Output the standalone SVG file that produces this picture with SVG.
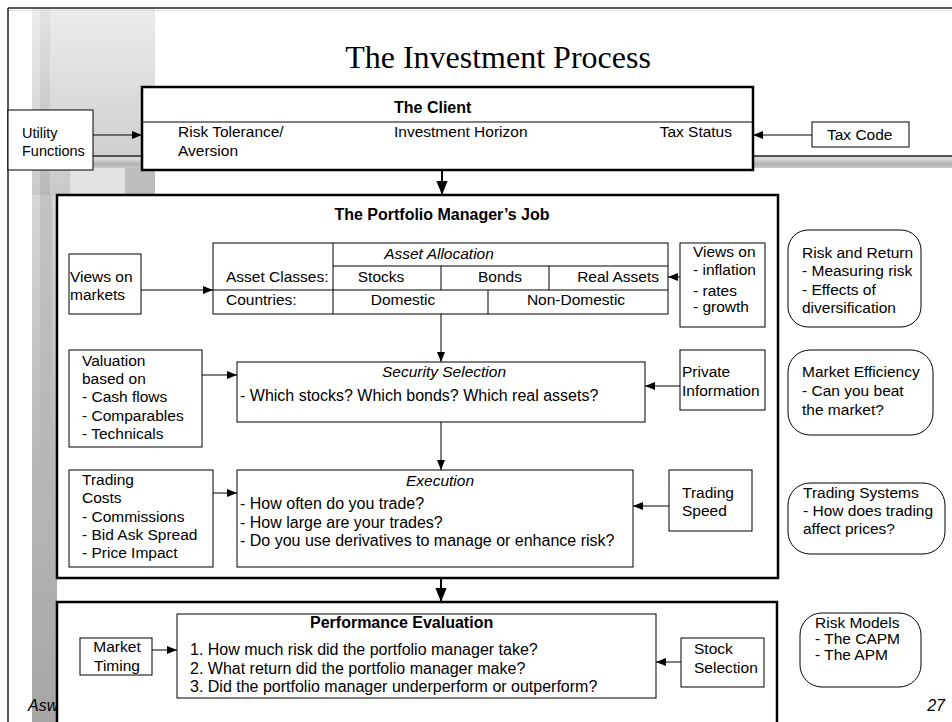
<svg xmlns="http://www.w3.org/2000/svg" width="952" height="722" viewBox="0 0 952 722">
<defs>
<style>
text{font-family:"Liberation Sans",Arial,sans-serif;font-size:15.5px;fill:#000}
.b{font-weight:bold;font-size:16px}
.i{font-style:italic}
.c{text-anchor:middle}
.e{text-anchor:end}
.m{font-size:16px}
.box{fill:#fff;stroke:#000;stroke-width:1}
.main{fill:#fff;stroke:#000;stroke-width:2.5}
.ln{fill:none;stroke:#000;stroke-width:1}
.con{fill:none;stroke:#000;stroke-width:1;marker-end:url(#ah)}
.big{fill:none;stroke:#000;stroke-width:2;marker-end:url(#ahb)}
</style>
<marker id="ah" viewBox="0 0 10 8" refX="10" refY="4" markerWidth="11" markerHeight="8" markerUnits="userSpaceOnUse" orient="auto"><path d="M0,0 L10,4 L0,8 z" fill="#000"/></marker>
<marker id="ahb" viewBox="0 0 10 8" refX="10" refY="4" markerWidth="14" markerHeight="12" markerUnits="userSpaceOnUse" orient="auto"><path d="M0,0 L10,4 L0,8 z" fill="#000"/></marker>
<linearGradient id="gTop" x1="0" y1="0" x2="0" y2="1"><stop offset="0" stop-color="#ececec"/><stop offset="1" stop-color="#c8c8c8"/></linearGradient>
<linearGradient id="gLeft" x1="0" y1="0" x2="0" y2="1"><stop offset="0" stop-color="#d6d6d6"/><stop offset="0.5" stop-color="#b8b8b8"/><stop offset="1" stop-color="#a6a6a6"/></linearGradient>
<linearGradient id="gStripe" x1="0" y1="0" x2="0" y2="1"><stop offset="0" stop-color="#e0e0e0"/><stop offset="1" stop-color="#b4b4b4"/></linearGradient>
<linearGradient id="gBar" x1="0" y1="0" x2="0" y2="1"><stop offset="0" stop-color="#555"/><stop offset="0.12" stop-color="#555"/><stop offset="0.2" stop-color="#e4e4e4"/><stop offset="0.7" stop-color="#b0b0b0"/><stop offset="1" stop-color="#c8c8c8"/></linearGradient>
</defs>

<g id="background">
<rect x="0" y="0" width="952" height="722" fill="#fff"/>
<rect x="32" y="8" width="123" height="187" fill="url(#gTop)"/>
<rect x="40" y="8" width="10" height="187" fill="url(#gStripe)" opacity="0.8"/>
<rect x="125" y="160" width="30" height="35" fill="#bdbdbd"/>
<rect x="70" y="168" width="55" height="27" fill="#e2e2e2"/>
<rect x="32" y="195" width="25" height="527" fill="url(#gLeft)"/>
<rect x="40" y="195" width="12" height="300" fill="#b6b6b6" opacity="0.6"/>
<rect x="8" y="155" width="944" height="13" fill="url(#gBar)"/>
<line x1="8" y1="8" x2="952" y2="8" stroke="#222" stroke-width="1.5"/>
<line x1="8" y1="10.5" x2="952" y2="10.5" stroke="#ddd" stroke-width="1"/>
<line x1="8" y1="8" x2="8" y2="722" stroke="#222" stroke-width="1.5"/>
<text x="498" y="68" style="font-family:'Liberation Serif','Times New Roman',serif;font-size:32px" class="c">The Investment Process</text>
<text x="28" y="711" class="i" style="font-size:16px">Asw</text>
<text x="945" y="711" class="i e" style="font-size:16px">27</text>
</g>

<g id="client">
<rect class="main" x="142" y="87" width="611" height="83"/>
<line class="ln" x1="142" y1="122" x2="753" y2="122"/>
<text x="394" y="113" class="b">The Client</text>
<text x="178" y="137">Risk Tolerance/</text>
<text x="178" y="156">Aversion</text>
<text x="394" y="137">Investment Horizon</text>
<text x="732" y="137" class="e">Tax Status</text>
</g>

<g id="utility">
<rect class="box" x="8" y="110" width="85" height="60"/>
<text x="22" y="138" style="font-size:14.5px">Utility</text>
<text x="22" y="156" style="font-size:14.5px">Functions</text>
</g>

<g id="taxcode">
<rect class="box" x="812" y="122" width="97" height="25"/>
<text x="827" y="140">Tax Code</text>
</g>

<g id="pm">
<rect class="main" x="57" y="195" width="721" height="383"/>
<text x="442" y="220" class="b c">The Portfolio Manager’s Job</text>
</g>

<g id="assetallocation">
<rect class="box" x="213" y="243" width="455" height="71"/>
<line class="ln" x1="333" y1="243" x2="333" y2="314"/>
<line class="ln" x1="333" y1="266" x2="668" y2="266"/>
<line class="ln" x1="213" y1="290" x2="668" y2="290"/>
<line class="ln" x1="441" y1="266" x2="441" y2="290"/>
<line class="ln" x1="549" y1="266" x2="549" y2="290"/>
<line class="ln" x1="488" y1="290" x2="488" y2="314"/>
<text x="439" y="259" class="i c">Asset Allocation</text>
<text x="226" y="282">Asset Classes:</text>
<text x="226" y="305">Countries:</text>
<text x="381" y="282" class="c">Stocks</text>
<text x="500" y="282" class="c">Bonds</text>
<text x="659" y="282" class="e">Real Assets</text>
<text x="403" y="305" class="c">Domestic</text>
<text x="576" y="305" class="c">Non-Domestic</text>
</g>

<g id="viewsmarkets">
<rect class="box" x="69" y="254" width="72" height="60"/>
<text x="70" y="282">Views on</text>
<text x="70" y="300">markets</text>
</g>

<g id="viewsmacro">
<rect class="box" x="680" y="243" width="85" height="84"/>
<text x="693" y="257">Views on</text>
<text x="693" y="275">- inflation</text>
<text x="693" y="296">- rates</text>
<text x="693" y="312">- growth</text>
</g>

<g id="riskreturn">
<rect class="box" x="788" y="230" width="133" height="97" rx="20" ry="20"/>
<text x="802" y="258">Risk and Return</text>
<text x="802" y="276">- Measuring risk</text>
<text x="802" y="295">- Effects of</text>
<text x="802" y="313">diversification</text>
</g>

<g id="valuation">
<rect class="box" x="69" y="350" width="133" height="97"/>
<text x="82" y="366">Valuation</text>
<text x="82" y="384">based on</text>
<text x="82" y="402">- Cash flows</text>
<text x="82" y="421">- Comparables</text>
<text x="82" y="439">- Technicals</text>
</g>

<g id="securityselection">
<rect class="box" x="237" y="362" width="408" height="60"/>
<text x="444" y="377" class="i c">Security Selection</text>
<text x="240" y="401" class="m">- Which stocks? Which bonds? Which real assets?</text>
</g>

<g id="privateinfo">
<rect class="box" x="680" y="350" width="85" height="60"/>
<text x="682" y="377">Private</text>
<text x="682" y="396">Information</text>
</g>

<g id="marketefficiency">
<rect class="box" x="788" y="350" width="145" height="85" rx="22" ry="22"/>
<text x="802" y="377">Market Efficiency</text>
<text x="802" y="396">- Can you beat</text>
<text x="802" y="415">the market?</text>
</g>

<g id="tradingcosts">
<rect class="box" x="69" y="470" width="144" height="97"/>
<text x="82" y="485">Trading</text>
<text x="82" y="503">Costs</text>
<text x="82" y="522">- Commissions</text>
<text x="82" y="540">- Bid Ask Spread</text>
<text x="82" y="558">- Price Impact</text>
</g>

<g id="execution">
<rect class="box" x="237" y="470" width="396" height="97"/>
<text x="440" y="486" class="i c">Execution</text>
<text x="240" y="509" class="m">- How often do you trade?</text>
<text x="240" y="528" class="m">- How large are your trades?</text>
<text x="240" y="546" class="m">- Do you use derivatives to manage or enhance risk?</text>
</g>

<g id="tradingspeed">
<rect class="box" x="669" y="470" width="83" height="61"/>
<text x="682" y="498">Trading</text>
<text x="682" y="516">Speed</text>
</g>

<g id="tradingsystems">
<rect class="box" x="788" y="483" width="157" height="71" rx="22" ry="22"/>
<text x="803" y="498">Trading Systems</text>
<text x="803" y="516">- How does trading</text>
<text x="803" y="534">affect prices?</text>
</g>

<g id="performance">
<rect class="main" x="57" y="602" width="720" height="130"/>
</g>

<g id="performanceevaluation">
<rect class="box" x="177" y="614" width="479" height="84"/>
<text x="310" y="628" class="b">Performance Evaluation</text>
<text x="190" y="655" class="m">1. How much risk did the portfolio manager take?</text>
<text x="190" y="674" class="m">2. What return did the portfolio manager make?</text>
<text x="190" y="692" class="m">3. Did the portfolio manager underperform or outperform?</text>
</g>

<g id="markettiming">
<rect class="box" x="80" y="638" width="72" height="37"/>
<text x="117" y="652" class="c">Market</text>
<text x="117" y="671" class="c">Timing</text>
</g>

<g id="stockselection">
<rect class="box" x="681" y="638" width="83" height="49"/>
<text x="694" y="654">Stock</text>
<text x="694" y="673">Selection</text>
</g>

<g id="riskmodels">
<rect class="box" x="800" y="613" width="121" height="74" rx="22" ry="22"/>
<text x="815" y="628">Risk Models</text>
<text x="815" y="644">- The CAPM</text>
<text x="815" y="660">- The APM</text>
</g>

<g id="connectors">
<path class="con" d="M93,135 H142"/>
<path class="con" d="M812,135 H753"/>
<path class="big" d="M442,171 V195"/>
<path class="con" d="M141,290 H213"/>
<path class="con" d="M680,277 H668"/>
<path class="con" d="M441,314 V362"/>
<path class="con" d="M202,375 H237"/>
<path class="con" d="M680,386 H645"/>
<path class="con" d="M441,422 V470"/>
<path class="con" d="M213,493 H237"/>
<path class="con" d="M669,506 H633"/>
<path class="big" d="M441,579 V602"/>
<path class="con" d="M152,650 H177"/>
<path class="con" d="M681,662 H656"/>
</g>
</svg>
